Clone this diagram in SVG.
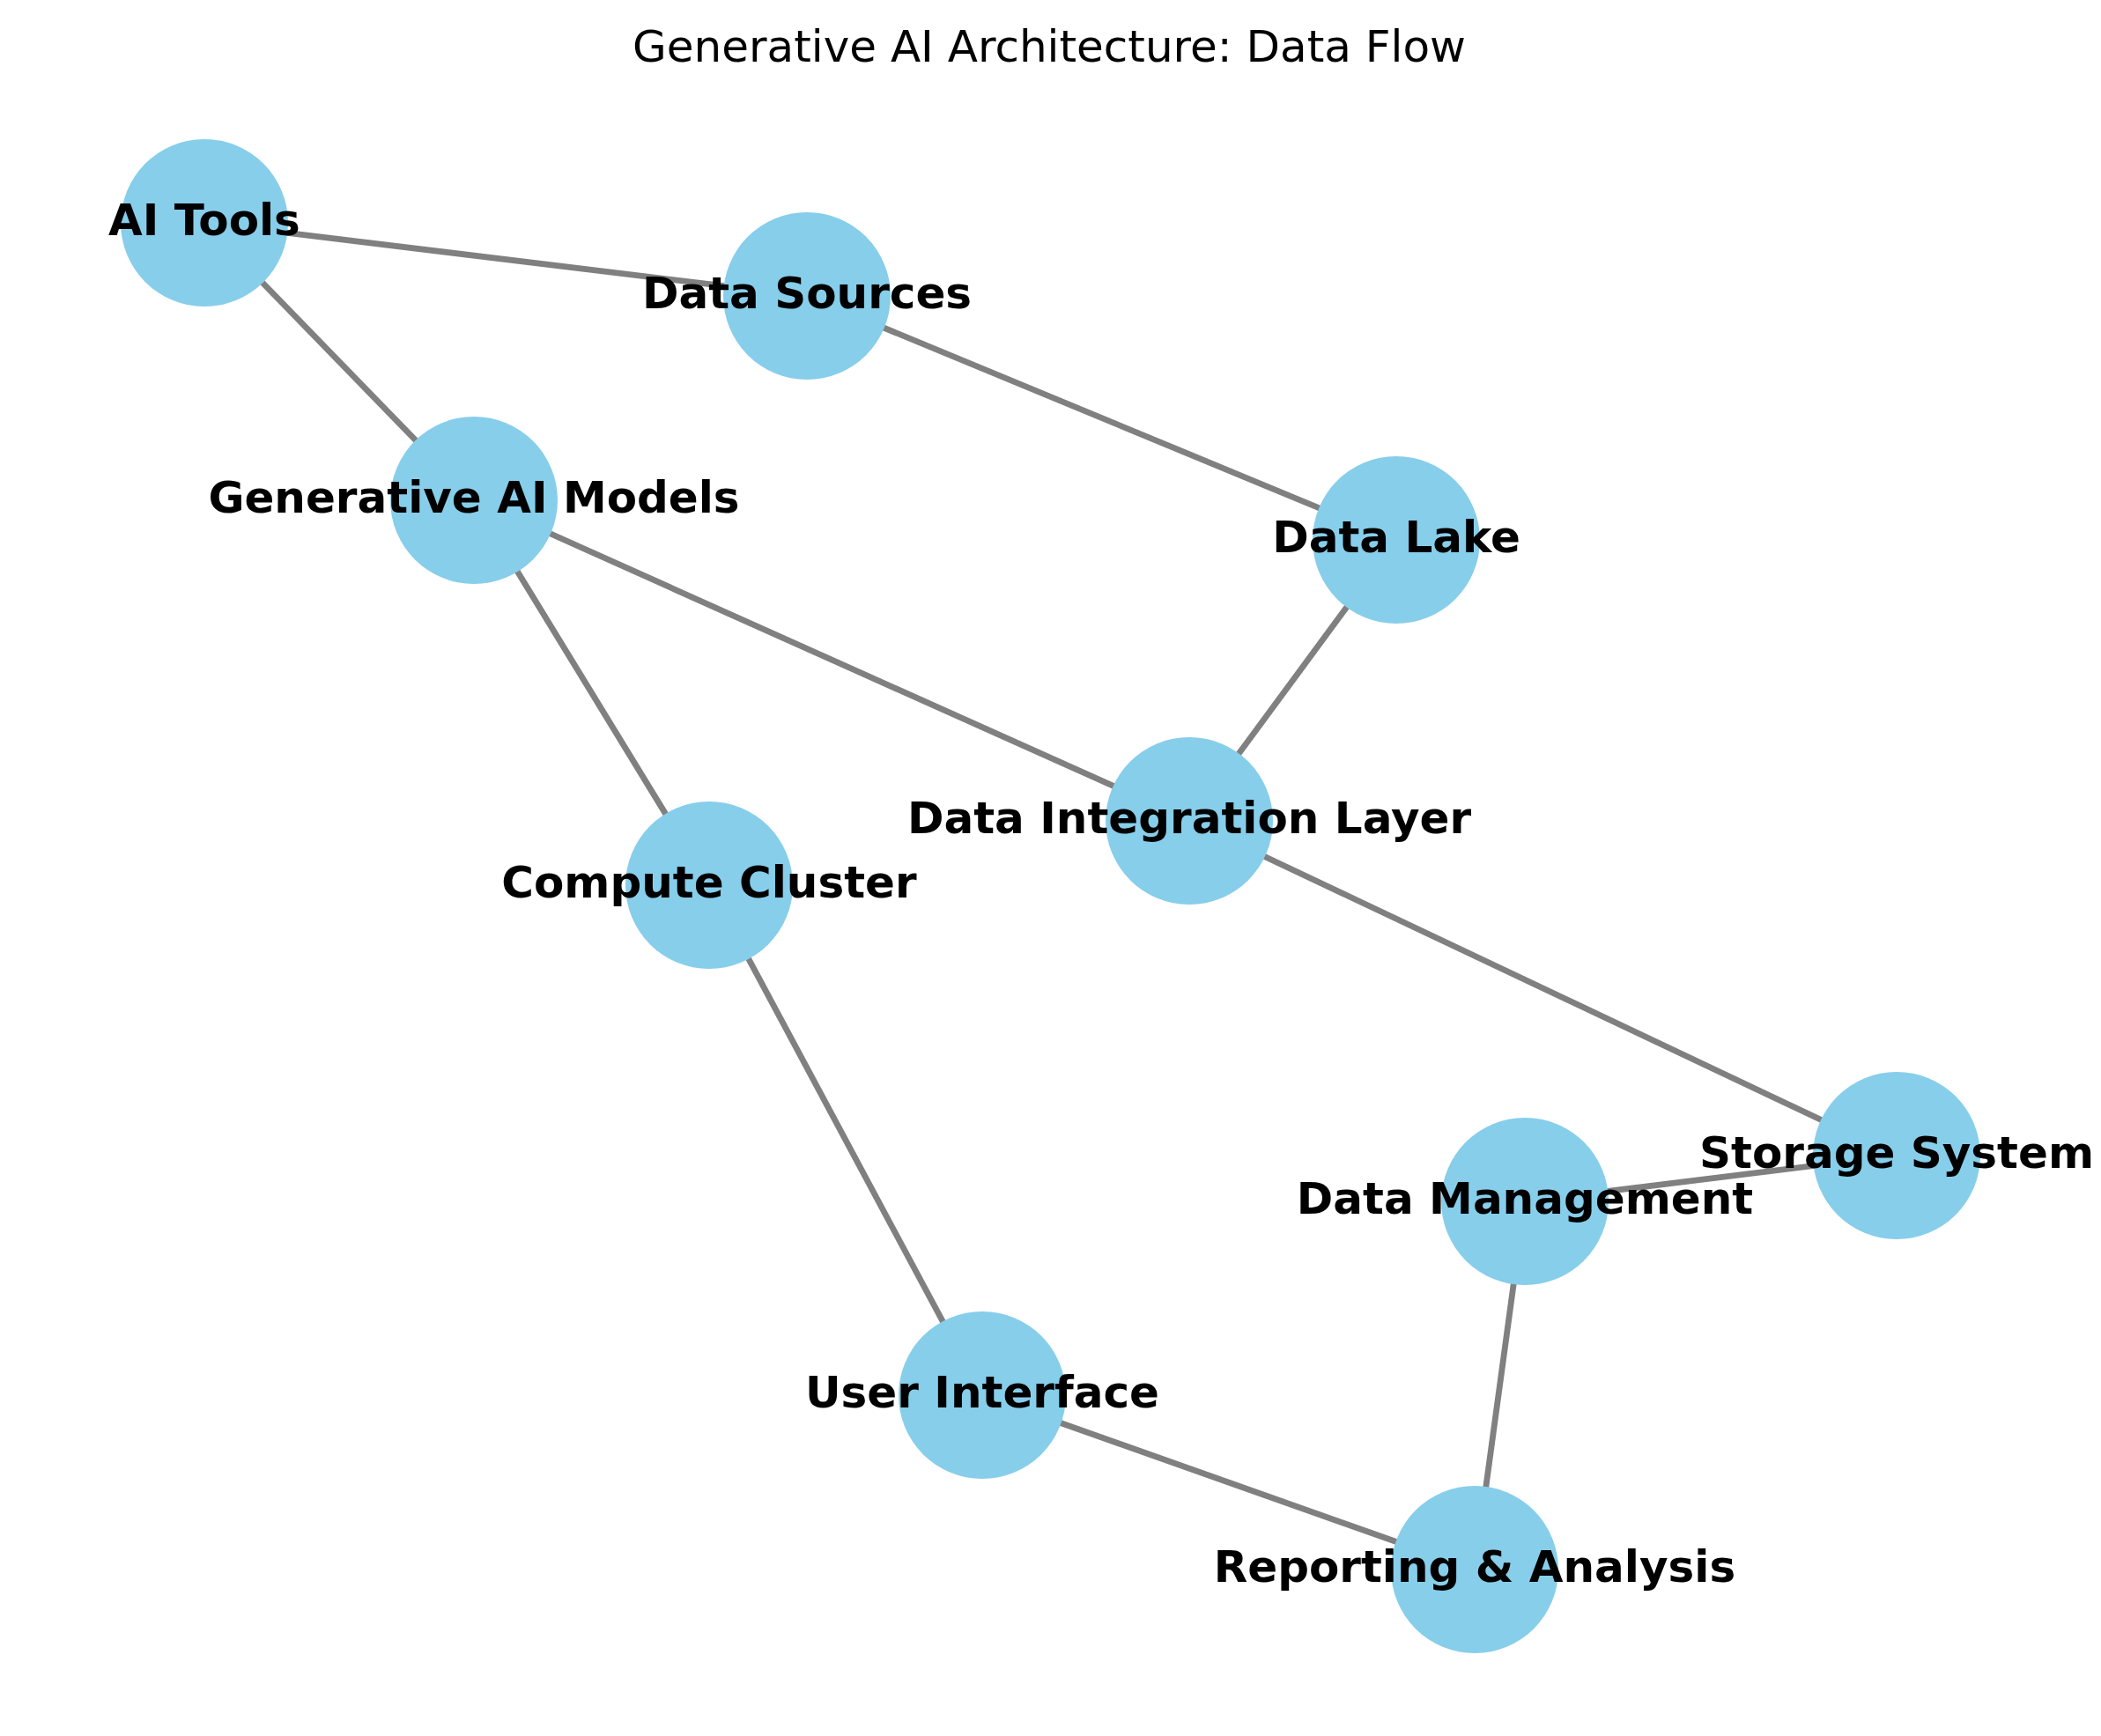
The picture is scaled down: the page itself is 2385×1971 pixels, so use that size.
<svg xmlns="http://www.w3.org/2000/svg" width="2385" height="1971" viewBox="0 0 2385 1971">
<style>
.edge{stroke:#808080;stroke-width:6.8;fill:none;stroke-linecap:butt}
.node{fill:#87CEEB}
.lbl{font-family:"DejaVu Sans","Liberation Sans",sans-serif;font-weight:bold;font-size:50px;fill:#000;text-anchor:middle}
.title{font-family:"DejaVu Sans","Liberation Sans",sans-serif;font-size:50px;fill:#000;text-anchor:middle}
</style>
<rect width="2385" height="1971" fill="#fff"/>
<text class="title" x="1191" y="70">Generative AI Architecture: Data Flow</text>
<g id="edges">
<line class="edge" x1="232" y1="253" x2="916" y2="336"/>
<line class="edge" x1="232" y1="253" x2="538" y2="568"/>
<line class="edge" x1="916" y1="336" x2="1585" y2="613"/>
<line class="edge" x1="538" y1="567" x2="1350" y2="931"/>
<line class="edge" x1="538" y1="568" x2="805" y2="1005"/>
<line class="edge" x1="1585" y1="613" x2="1350" y2="932"/>
<line class="edge" x1="1350" y1="932" x2="2153" y2="1312"/>
<line class="edge" x1="805" y1="1005" x2="1115" y2="1584"/>
<line class="edge" x1="2153" y1="1312" x2="1731" y2="1364"/>
<line class="edge" x1="1731" y1="1364" x2="1674" y2="1782"/>
<line class="edge" x1="1115" y1="1584" x2="1674" y2="1782"/>
</g>
<g id="n-ai-tools"><circle class="node" cx="232" cy="253" r="95"/></g>
<g id="n-data-sources"><circle class="node" cx="916" cy="336" r="95"/></g>
<g id="n-gen-ai-models"><circle class="node" cx="538" cy="568" r="95"/></g>
<g id="n-data-lake"><circle class="node" cx="1585" cy="613" r="95"/></g>
<g id="n-data-integration"><circle class="node" cx="1350" cy="932" r="95"/></g>
<g id="n-compute-cluster"><circle class="node" cx="805" cy="1005" r="95"/></g>
<g id="n-storage-system"><circle class="node" cx="2153" cy="1312" r="95"/></g>
<g id="n-data-management"><circle class="node" cx="1731" cy="1364" r="95"/></g>
<g id="n-user-interface"><circle class="node" cx="1115" cy="1584" r="95"/></g>
<g id="n-reporting"><circle class="node" cx="1674" cy="1782" r="95"/></g>
<g id="labels">
<text class="lbl" x="232" y="267">AI Tools</text>
<text class="lbl" x="916" y="350">Data Sources</text>
<text class="lbl" x="538" y="582">Generative AI Models</text>
<text class="lbl" x="1585" y="627">Data Lake</text>
<text class="lbl" x="1350" y="946">Data Integration Layer</text>
<text class="lbl" x="805" y="1019">Compute Cluster</text>
<text class="lbl" x="2153" y="1326">Storage System</text>
<text class="lbl" x="1731" y="1378">Data Management</text>
<text class="lbl" x="1115" y="1598">User Interface</text>
<text class="lbl" x="1674" y="1796">Reporting &amp; Analysis</text>
</g>
</svg>
